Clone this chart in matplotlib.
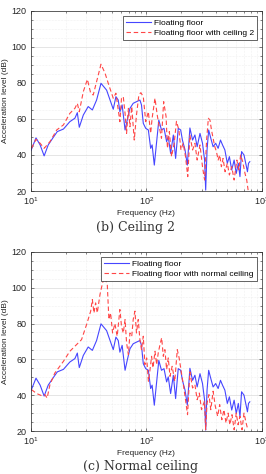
import matplotlib.pyplot as plt
from matplotlib.ticker import LogLocator, MultipleLocator, NullFormatter

# Floating floor (same in both panels)
freqFloor = [10, 11.05, 12, 13, 14.1, 15.6, 16.9, 19.1, 21.7, 24.0, 25.2, 26.2, 28.4, 31.3, 34.0,
             37.0, 40.4, 45.2, 51.6, 54.4, 57, 58.9, 61.6, 65.3, 68.7, 72, 76.8, 82, 87.8, 90.6,
             93.9, 98.6, 103.9, 108.8, 112, 117, 122.6, 128, 135, 142, 149.6, 154.5, 162, 171, 179,
             188.6, 198, 205, 216, 226, 238, 251, 263, 275, 291, 306, 319, 326, 335, 346,
             361, 378, 398, 418, 438, 456, 478, 502, 523, 548, 575, 600, 625, 646, 667,
             700, 730, 750, 766, 786]
levelFloor = [42.5, 49.5, 45.6, 39.5, 45.6, 49.8, 53, 54.4, 58.5, 60.4, 63.5, 55.4, 62.2, 66.9, 65,
              70.5, 79.8, 76, 65.4, 72.4, 70.5, 64, 67.8, 53.9, 60.4, 65.9, 68.7, 69.6, 70.5, 67.8,
              57.6, 54.8, 53.9, 43.7, 45.6, 34.4, 47.4, 59.4, 53.9, 54.8, 47.4, 50.2, 40.9, 51.1, 38.1,
              54.8, 53.9, 48.3, 42.8, 34.4, 55, 48.3, 51.1, 44.6, 52, 46.5, 37.2, 20.5, 42.8, 53.9,
              49.3, 44.6, 46.5, 43.7, 48.3, 45.6, 42.8, 35.4, 39.1, 31.7, 37.2, 29.8, 35.4, 28, 41.9,
              40, 34.4, 30.7, 35.4, 36.3]

# Floating floor with ceiling 2
freqCeil2 = [10.1, 11.05, 12, 13.0, 14.6, 16.7, 19.1, 21.7, 24, 25.2, 26.2, 28.4, 30.8, 32.9, 34.6,
             37, 40.4, 43.8, 46.7, 51.6, 54.4, 57, 58.9, 60.8, 63, 65.3, 67.3, 69.8, 72, 74.6,
             78.4, 82, 86, 89.5, 93.9, 98.6, 103.9, 108.8, 112, 118.6, 124, 129, 135, 141, 148,
             152, 158, 165, 174, 182, 191, 199, 208, 218, 228, 238, 251, 263, 275, 291,
             306, 319, 332, 344, 355, 366, 378, 391, 404, 418, 431, 446, 461, 480, 502,
             523, 548, 575, 607, 632, 654, 682, 714, 739, 760]
levelCeil2 = [43.7, 48.7, 46.5, 43.7, 47.4, 53.9, 56.7, 63.1, 65.9, 68.7, 64, 75.2, 82, 74.3, 73.3,
              80.7, 90.4, 85.4, 79.8, 71.5, 74.3, 65, 58.5, 71.5, 72.4, 63.1, 52, 65.9, 55.7, 66.9,
              48.3, 62.2, 73.3, 74.6, 72.4, 58.5, 64, 52, 60.4, 71.5, 62.2, 55.7, 49.3, 69.6, 61.3,
              43.7, 53, 39.1, 46.5, 58.7, 53.9, 42.8, 46.5, 39.1, 28, 51, 42.8, 46.5, 37.2, 45.6,
              33.5, 26.1, 48.3, 60.4, 59.4, 53.9, 49.3, 44.6, 41.9, 37.2, 40, 33.5, 38.1, 30.7, 35.4,
              28.9, 33.5, 26.1, 37.2, 31.7, 40, 36.3, 29.8, 26.1, 20.5]

# Floating floor with normal ceiling
freqNormal = [10.1, 11.2, 12.4, 13.2, 13.8, 14.6, 16.1, 19.1, 21.7, 24.8, 27.4, 30.3, 32.9, 34, 35.1,
              36.3, 37.5, 39.6, 41.7, 43.4, 45.8, 47.3, 48.9, 50.9, 53.3, 55.8, 58.9, 60.8, 63, 65.3,
              67.3, 69.8, 72, 74.6, 76.8, 79.5, 82, 84.9, 87.8, 90.6, 93.9, 97, 100.5, 104, 107,
              110.8, 114, 118.6, 122.6, 126.6, 131, 135.5, 140, 144.5, 149.6, 154.5, 160, 167, 176,
              185, 192, 202, 211, 220, 227, 238, 251, 263, 275, 287, 300, 318, 326, 335,
              348, 361, 378, 395, 414, 431, 450, 469, 489, 510, 528, 551, 575, 600, 622,
              646, 673, 700, 730, 756]
levelNormal = [43.1, 40.9, 39.7, 40.3, 38.4, 45.9, 52.4, 58.9, 64.5, 68.2, 71, 79.4, 86.9, 93.4, 85.9,
               91.5, 85.9, 96.2, 102.7, 106, 101.7, 82.2, 85.9, 74.7, 80, 72.9, 87.8, 78.5, 74.7, 82.2,
               69.2, 62.6, 74.7, 72.9, 82.2, 86.9, 74.7, 82.2, 71, 65.4, 72.9, 57.1, 60.8, 47.7, 53.3,
               61.7, 55.2, 64.5, 57.1, 63.6, 68.2, 72, 61.7, 65.4, 54.3, 60.8, 50.5, 56.1, 47.7,
               65.4, 60.8, 51.5, 44, 35.6, 29.1, 53, 44, 45.9, 37.5, 41.2, 31.9, 36.6, 20.7, 35.6,
               40.3, 31.9, 42.2, 33.8, 28.2, 34.7, 26.3, 31.9, 24.5, 30, 23.5, 29.1, 20.7, 30, 23.5,
               28.2, 20.7, 30, 24.5, 20.7]

textColor = "#262626"
blue = "#4646ff"
red = "#ff4646"


def drawPanel(ax, freqRed, levelRed, redLabel):
    ax.plot(freqFloor, levelFloor, color=blue, lw=0.8, label="Floating floor")
    ax.plot(freqRed, levelRed, color=red, lw=0.8, linestyle=(0, (4, 2.5)), label=redLabel)
    ax.set_xscale("log")
    ax.set_xlim(10, 1000)
    ax.set_ylim(20, 120)
    ax.yaxis.set_major_locator(MultipleLocator(20))
    ax.yaxis.set_minor_locator(MultipleLocator(5))
    ax.xaxis.set_minor_locator(LogLocator(base=10, subs=range(2, 10)))
    ax.xaxis.set_minor_formatter(NullFormatter())
    ax.grid(True, which="major", color="#dadada", lw=0.5)
    ax.grid(True, which="minor", color="#e4e4e4", lw=0.4, linestyle=":")
    ax.set_axisbelow(True)
    ax.tick_params(which="both", direction="in", top=True, right=True, colors=textColor,
                   labelsize=6.5, width=0.4, pad=3)
    ax.tick_params(which="major", length=2.5)
    ax.tick_params(which="minor", length=1.5)
    for s in ax.spines.values():
        s.set_color(textColor)
        s.set_linewidth(0.5)
    ax.set_xlabel("Frequency (Hz)", fontsize=6, color=textColor, labelpad=2)
    ax.set_ylabel("Acceleration level (dB)", fontsize=6, color=textColor, labelpad=2)
    leg = ax.legend(loc="upper right", fontsize=6, fancybox=False, framealpha=1,
                    edgecolor=textColor, handlelength=3.0, borderpad=0.35, labelspacing=0.3,
                    handletextpad=0.4, borderaxespad=0.6)
    leg.get_frame().set_linewidth(0.5)


plt.rcParams["font.family"] = ["Liberation Sans", "DejaVu Sans"]
fig = plt.figure(figsize=(2.66, 4.74), dpi=100)

ax1 = fig.add_axes([0.1165, 0.597, 0.868, 0.380])
drawPanel(ax1, freqCeil2, levelCeil2, "Floating floor with ceiling 2")
ax2 = fig.add_axes([0.1165, 0.0907, 0.868, 0.378])
drawPanel(ax2, freqNormal, levelNormal, "Floating floor with normal ceiling")

fig.text(0.51, 0.519, "(b) Ceiling 2", ha="center", va="center", fontsize=9,
         family="DejaVu Serif", color="#333333")
fig.text(0.53, 0.015, "(c) Normal ceiling", ha="center", va="center", fontsize=9,
         family="DejaVu Serif", color="#333333")

fig.savefig("out.png", dpi=100)
